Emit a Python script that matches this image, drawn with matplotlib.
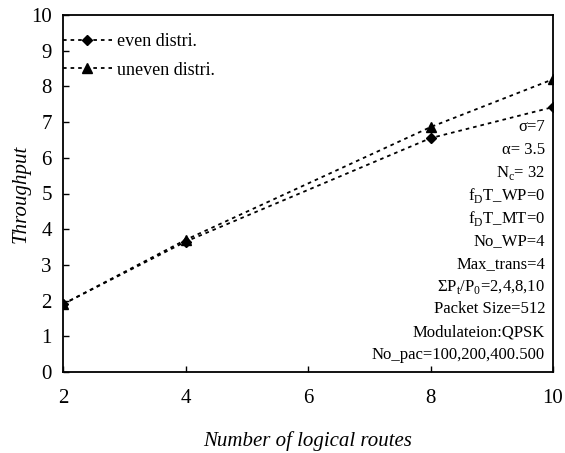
import matplotlib
matplotlib.use("Agg")
import matplotlib.pyplot as plt

plt.rcParams['font.family'] = ['Liberation Serif', 'DejaVu Serif']
plt.rcParams['mathtext.fontset'] = 'custom'
plt.rcParams['mathtext.rm'] = 'Liberation Serif'

routes = [2, 4, 8, 10]
even = [1.9, 3.65, 6.55, 7.42]
uneven = [1.9, 3.7, 6.86, 8.2]
series_labels = ['even distri.', 'uneven distri.']
xticks = [2, 4, 6, 8, 10]
yticks = list(range(0, 11))
params = ['σ=7', 'α= 3.5', 'N$_\\mathrm{c}$= 32', 'f$_\\mathrm{D}$T_WP=0', 'f$_\\mathrm{D}$T_MT=0',
          'No_WP=4', 'Max_trans=4', 'ΣP$_\\mathrm{t}$/P$_\\mathrm{0}$=2,4,8,10', 'Packet Size=512',
          'Modulateion:QPSK', 'No_pac=100,200,400.500']

fig = plt.figure(figsize=(5.65, 4.53), dpi=100)
ax = fig.add_axes([63/565, 1-372/453, 490/565, 357/453])

ls = (0, (2, 2.2))
ax.plot(routes, even, color='black', linestyle=ls, linewidth=1.3, marker='D', markersize=5,
        label=series_labels[0])
ax.plot(routes, uneven, color='black', linestyle=ls, linewidth=1.3, marker='^', markersize=6.5,
        label=series_labels[1])

ax.set_xlim(2, 10)
ax.set_ylim(0, 10)
ax.set_xticks(xticks)
ax.set_yticks(yticks)
ax.tick_params(axis='both', direction='in', length=4, labelsize=15, width=1,
               top=False, right=False)
ax.tick_params(axis='x', pad=12)
ax.tick_params(axis='y', pad=8)
for s in ax.spines.values():
    s.set_linewidth(1.3)

ax.set_xlabel('Number of logical routes', fontsize=15, style='italic', labelpad=17)
ax.set_ylabel('Throughput', fontsize=15, style='italic', labelpad=0)

leg = ax.legend(loc='upper left', bbox_to_anchor=(0.0, 0.95), frameon=False, fontsize=13,
                handlelength=2.7, handletextpad=0.3, borderaxespad=0, borderpad=0,
                labelspacing=0.65, markerfirst=True)

y0 = 127
for i, t in enumerate(params):
    fig.text(545/565, 1 - (y0 + i*22.8)/453, t, ha='right', va='center', fontsize=12)

fig.savefig('out.png', dpi=100)
